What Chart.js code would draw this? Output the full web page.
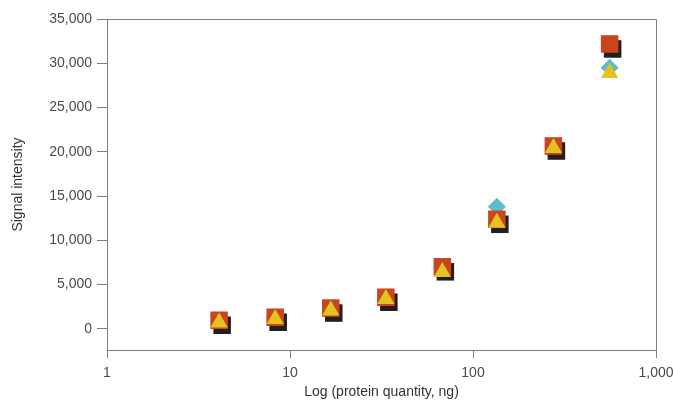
<!DOCTYPE html>
<html>
<head>
<meta charset="utf-8">
<script src="https://cdn.jsdelivr.net/npm/chart.js@4"></script>
<style>
  html, body { margin: 0; padding: 0; background: #ffffff; }
  #wrap { width: 673px; height: 403px; position: relative; }
</style>
</head>
<body>
<div id="wrap"><canvas id="c" width="673" height="403"></canvas></div>
<script>
// Protein quantity (ng)
const quantities = [4.1, 8.3, 16.7, 33.4, 68, 135, 275, 558];
// Signal intensity per series
const squareSeries   = [960, 1300, 2340, 3560, 7000, 12370, 20650, 32180];
const diamondSeries  = [960, 1300, 2340, 3560, 7000, 13790, 20650, 29500];
const triangleSeries = [710, 1100, 2070, 3360, 6400, 11980, 20420, 28900];
// Tick labels
const xTicks = [1, 10, 100, 1000];
const yTicks = [0, 5000, 10000, 15000, 20000, 25000, 30000, 35000];

const toPoints = (vals) => vals.map((v, i) => ({ x: quantities[i], y: v }));

const axisGrey = '#7f7f7f';
const textGrey = '#4a4a4a';

const shadowPlugin = {
  id: 'squareShadow',
  beforeDatasetDraw(chart, args) {
    const ds = chart.data.datasets[args.index];
    if (ds.shadow) {
      const ctx = chart.ctx;
      ctx.save();
      ctx.shadowColor = '#231f20';
      ctx.shadowOffsetX = 3;
      ctx.shadowOffsetY = 5;
      ctx.shadowBlur = 0;
    }
  },
  afterDatasetDraw(chart, args) {
    const ds = chart.data.datasets[args.index];
    if (ds.shadow) chart.ctx.restore();
  }
};

const framePlugin = {
  id: 'frame',
  beforeDatasetsDraw(chart) {
    const { ctx, chartArea: a } = chart;
    ctx.save();
    ctx.strokeStyle = axisGrey;
    ctx.lineWidth = 1;
    ctx.beginPath();
    ctx.moveTo(Math.round(a.left) + 0.5, Math.round(a.top) + 0.5);
    ctx.lineTo(Math.round(a.right) + 0.5, Math.round(a.top) + 0.5);
    ctx.lineTo(Math.round(a.right) + 0.5, Math.round(a.bottom) + 0.5);
    ctx.stroke();
    ctx.restore();
  }
};

new Chart(document.getElementById('c'), {
  type: 'scatter',
  data: {
    datasets: [
      {
        label: 'Triangle',
        data: toPoints(triangleSeries),
        pointStyle: 'triangle',
        pointRadius: 10,
        pointHoverRadius: 10,
        backgroundColor: '#e4c21f',
        borderWidth: 0,
        order: 1
      },
      {
        label: 'Square',
        data: toPoints(squareSeries),
        pointStyle: 'rect',
        pointRadius: 12.4,
        pointHoverRadius: 12.4,
        backgroundColor: '#c9461c',
        borderWidth: 0,
        shadow: true,
        order: 2
      },
      {
        label: 'Diamond',
        data: toPoints(diamondSeries),
        pointStyle: 'rectRot',
        pointRadius: 9,
        pointHoverRadius: 9,
        backgroundColor: '#5ebdcc',
        borderWidth: 0,
        order: 3
      }
    ]
  },
  options: {
    responsive: false,
    animation: false,
    events: [],
    layout: { padding: { top: 19, right: 0, left: 0, bottom: 0 } },
    plugins: {
      legend: { display: false },
      tooltip: { enabled: false }
    },
    scales: {
      x: {
        type: 'logarithmic',
        min: 1,
        max: 1000,
        afterBuildTicks(scale) { scale.ticks = xTicks.map(v => ({ value: v })); },
        afterFit(scale) { scale.height = 53; scale.paddingRight = 17; },
        ticks: {
          autoSkip: false,
          maxRotation: 0,
          color: textGrey,
          font: { family: 'Liberation Sans, Arial, sans-serif', size: 14 },
          padding: 7,
          callback: (v) => Number(v).toLocaleString('en-US')
        },
        grid: { display: true, drawOnChartArea: false, drawTicks: true, tickLength: 8, color: axisGrey },
        border: { display: true, color: axisGrey },
        title: {
          display: true,
          text: 'Log (protein quantity, ng)',
          color: '#333333',
          font: { family: 'Liberation Sans, Arial, sans-serif', size: 14 },
          padding: { top: 0, bottom: 2 }
        }
      },
      y: {
        type: 'linear',
        min: -2400,
        max: 35000,
        afterBuildTicks(scale) { scale.ticks = yTicks.map(v => ({ value: v })); },
        afterFit(scale) { scale.width = 107; },
        ticks: {
          color: textGrey,
          font: { family: 'Liberation Sans, Arial, sans-serif', size: 14 },
          padding: 5,
          callback: (v) => Number(v).toLocaleString('en-US')
        },
        grid: { display: true, drawOnChartArea: false, drawTicks: true, tickLength: 10, color: axisGrey },
        border: { display: true, color: axisGrey },
        title: {
          display: true,
          text: 'Signal intensity',
          color: '#333333',
          font: { family: 'Liberation Sans, Arial, sans-serif', size: 14 },
          padding: { top: 10, bottom: 4 }
        }
      }
    }
  },
  plugins: [shadowPlugin, framePlugin]
});
</script>
</body>
</html>
